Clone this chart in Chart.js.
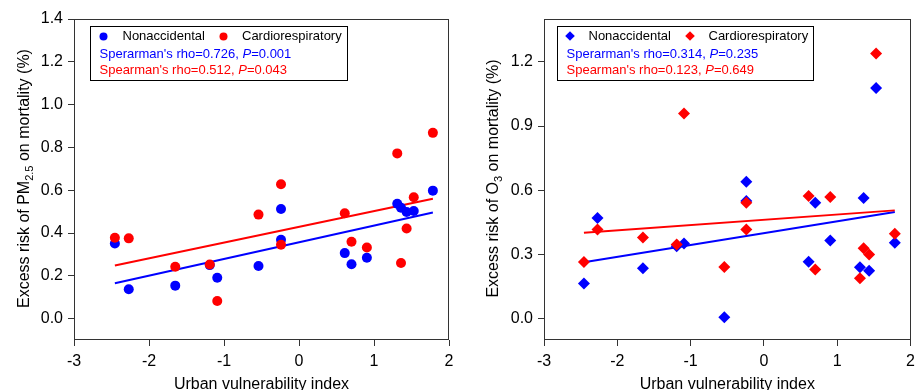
<!DOCTYPE html>
<html>
<head>
<meta charset="utf-8">
<script src="https://cdn.jsdelivr.net/npm/chart.js@4.4.1/dist/chart.umd.min.js"></script>
<style>
body { margin: 0; background: #fff; }
#wrap { position: relative; width: 921px; height: 390px; overflow: hidden; }
canvas { position: absolute; top: 0; }
#pmChart { left: 0; }
#o3Chart { left: 460px; }
</style>
</head>
<body>
<div id="wrap">
  <canvas id="pmChart" width="460" height="390"></canvas>
  <canvas id="o3Chart" width="461" height="390"></canvas>
</div>
<script>
// urban vulnerability index of the 16 cities
var vulnerability = [-2.455, -2.27, -1.65, -1.19, -1.09, -0.54, -0.24, -0.24, 0.61, 0.70, 0.905, 1.31, 1.36, 1.435, 1.53, 1.785];

// excess risk (%), same city order
var pmNonaccidental = [0.351, 0.137, 0.154, 0.250, 0.191, 0.246, 0.512, 0.368, 0.306, 0.254, 0.284, 0.537, 0.518, 0.498, 0.503, 0.598];
var pmCardio        = [0.378, 0.375, 0.242, 0.253, 0.082, 0.486, 0.628, 0.345, 0.492, 0.359, 0.332, 0.772, 0.260, 0.421, 0.567, 0.868];
var o3Nonaccidental = [0.164, 0.470, 0.235, 0.338, 0.351, 0.006, 0.639, 0.550, 0.266, 0.541, 0.365, 0.240, 0.564, 0.224, 1.078, 0.354];
var o3Cardio        = [0.265, 0.416, 0.379, 0.346, 0.958, 0.241, 0.541, 0.416, 0.573, 0.229, 0.568, 0.189, 0.329, 0.299, 1.239, 0.397];

var xTicks = [-3, -2, -1, 0, 1, 2];
var pmTicks = [0, 0.2, 0.4, 0.6, 0.8, 1.0, 1.2, 1.4];
var o3Ticks = [0, 0.3, 0.6, 0.9, 1.2];

var seriesNames = ['Nonaccidental', 'Cardiorespiratory'];
var pmStats = [["Sperarman's rho=0.726, ", "P", "=0.001"], ["Spearman's rho=0.512, ", "P", "=0.043"]];
var o3Stats = [["Sperarman's rho=0.314, ", "P", "=0.235"], ["Spearman's rho=0.123, ", "P", "=0.649"]];

var pmTitle = ['Excess risk of PM', '2.5', ' on mortality (%)'];
var o3Title = ['Excess risk of O', '3', ' on mortality (%)'];
var xTitle = 'Urban vulnerability index';

var BLUE = '#0000ff', RED = '#ff0000';
var FONT = '"Liberation Sans", Arial, sans-serif';

Chart.defaults.font.family = FONT;
Chart.defaults.color = '#000';

function toPoints(xs, ys) {
    return xs.map(function (x, i) { return { x: x, y: ys[i] }; });
}

// least squares line over the range of x
function fitLine(xs, ys) {
    var n = xs.length, mx = 0, my = 0;
    for (var i = 0; i < n; i++) { mx += xs[i]; my += ys[i]; }
    mx /= n; my /= n;
    var sxy = 0, sxx = 0;
    for (var i = 0; i < n; i++) {
        sxy += (xs[i] - mx) * (ys[i] - my);
        sxx += (xs[i] - mx) * (xs[i] - mx);
    }
    var b = sxy / sxx, a = my - b * mx;
    var x0 = Math.min.apply(null, xs), x1 = Math.max.apply(null, xs);
    return [{ x: x0, y: a + b * x0 }, { x: x1, y: a + b * x1 }];
}

function marker(ctx, style, x, y, r) {
    ctx.beginPath();
    if (style === 'rectRot') {
        ctx.moveTo(x - r, y); ctx.lineTo(x, y - r); ctx.lineTo(x + r, y); ctx.lineTo(x, y + r);
        ctx.closePath();
    } else {
        ctx.arc(x, y, r, 0, Math.PI * 2);
    }
    ctx.fill();
}

// frame, inset legend box and y title with subscript
var extras = {
    id: 'extras',
    afterDatasetsDraw: function (chart, args, o) {
        var ctx = chart.ctx, ca = chart.chartArea;
        ctx.save();
        ctx.strokeStyle = '#333';
        ctx.lineWidth = 1;
        ctx.strokeRect(Math.round(ca.left) + 0.5, Math.round(ca.top) + 0.5,
            Math.round(ca.right - ca.left) - 1, Math.round(ca.bottom - ca.top) - 1);

        // legend
        var bx = Math.round(ca.left + o.box.dx) + 0.5, by = Math.round(ca.top + o.box.dy) + 0.5;
        ctx.fillStyle = '#fff';
        ctx.fillRect(bx, by, o.box.w, o.box.h);
        ctx.strokeStyle = '#000';
        ctx.strokeRect(bx, by, o.box.w, o.box.h);
        ctx.font = '13px ' + FONT;
        ctx.textBaseline = 'middle';
        ctx.textAlign = 'left';
        var cols = [BLUE, RED];
        for (var k = 0; k < 2; k++) {
            ctx.fillStyle = cols[k];
            marker(ctx, o.style, bx + o.markX[k], by + o.rowY, o.markR);
            ctx.fillStyle = '#000';
            ctx.fillText(seriesNames[k], bx + o.textX[k], by + o.rowY);
        }
        for (var k = 0; k < 2; k++) {
            var x = bx + o.statX, y = by + o.statY[k];
            ctx.fillStyle = cols[k];
            var parts = o.stats[k];
            for (var j = 0; j < parts.length; j++) {
                ctx.font = (j === 1 ? 'italic ' : '') + '13px ' + FONT;
                ctx.fillText(parts[j], x, y);
                x += ctx.measureText(parts[j]).width;
            }
        }

        // y title
        var t = o.title;
        ctx.translate(o.titleX, (ca.top + ca.bottom) / 2 + o.titleDy);
        ctx.rotate(-Math.PI / 2);
        ctx.fillStyle = '#000';
        var big = '16px ' + FONT, small = '11px ' + FONT;
        ctx.font = big; var w0 = ctx.measureText(t[0]).width, w2 = ctx.measureText(t[2]).width;
        ctx.font = small; var w1 = ctx.measureText(t[1]).width;
        var sx = -(w0 + w1 + w2) / 2;
        ctx.font = big; ctx.fillText(t[0], sx, 0);
        ctx.font = small; ctx.fillText(t[1], sx + w0, 5);
        ctx.font = big; ctx.fillText(t[2], sx + w0 + w1, 0);
        ctx.restore();
    }
};

function makeChart(id, nonacc, cardio, yTicks, style, radius, leftWidth, rightPad, opts) {
    var ctx = document.getElementById(id);
    return new Chart(ctx, {
        type: 'scatter',
        data: {
            datasets: [
                { label: seriesNames[1], data: toPoints(vulnerability, cardio), pointStyle: style,
                  pointRadius: radius, pointHoverRadius: radius, backgroundColor: RED, borderWidth: 0, order: 1 },
                { label: seriesNames[0], data: toPoints(vulnerability, nonacc), pointStyle: style,
                  pointRadius: radius, pointHoverRadius: radius, backgroundColor: BLUE, borderWidth: 0, order: 2 },
                { type: 'line', label: 'fit1', data: fitLine(vulnerability, cardio), borderColor: RED,
                  borderWidth: 2, pointRadius: 0, fill: false, order: 3 },
                { type: 'line', label: 'fit0', data: fitLine(vulnerability, nonacc), borderColor: BLUE,
                  borderWidth: 2, pointRadius: 0, fill: false, order: 4 }
            ]
        },
        options: {
            responsive: false,
            animation: false,
            events: [],
            layout: { padding: { top: 19, right: rightPad, left: 0, bottom: 0 } },
            plugins: {
                legend: { display: false },
                tooltip: { enabled: false },
                extras: opts
            },
            scales: {
                x: {
                    type: 'linear', min: -3, max: 2,
                    afterBuildTicks: function (s) { s.ticks = xTicks.map(function (v) { return { value: v }; }); },
                    afterFit: function (s) { s.height = 50; },
                    grid: { drawOnChartArea: false, tickLength: 6, color: '#333' },
                    border: { display: false },
                    ticks: { font: { size: 16 }, padding: 6, color: '#000',
                             callback: function (v) { return String(v); } },
                    title: { display: true, text: xTitle, font: { size: 16 }, padding: { top: 0, bottom: -4 } }
                },
                y: {
                    type: 'linear', min: -0.1, max: 1.4,
                    afterBuildTicks: function (s) { s.ticks = yTicks.map(function (v) { return { value: v }; }); },
                    afterFit: function (s) { s.width = leftWidth; },
                    grid: { drawOnChartArea: false, tickLength: 6, color: '#333' },
                    border: { display: false },
                    ticks: { font: { size: 16 }, padding: 5, color: '#000',
                             callback: function (v) { return v.toFixed(1); } }
                }
            }
        },
        plugins: [extras]
    });
}

makeChart('pmChart', pmNonaccidental, pmCardio, pmTicks, 'circle', 5, 74, 11, {
    style: 'circle', markR: 4, box: { dx: 16, dy: 7, w: 257, h: 54 },
    rowY: 10, markX: [13, 133], textX: [32, 151.5], statX: 9, statY: [28, 44],
    stats: pmStats, title: pmTitle, titleX: 24.5, titleDy: -1
});
makeChart('o3Chart', o3Nonaccidental, o3Cardio, o3Ticks, 'rectRot', 6, 84, 2, {
    style: 'rectRot', markR: 4.8, box: { dx: 12.5, dy: 7, w: 256, h: 54 },
    rowY: 9.5, markX: [12.5, 132.5], textX: [31, 151], statX: 9, statY: [28, 44],
    stats: o3Stats, title: o3Title, titleX: 34, titleDy: -1
});
</script>
</body>
</html>
